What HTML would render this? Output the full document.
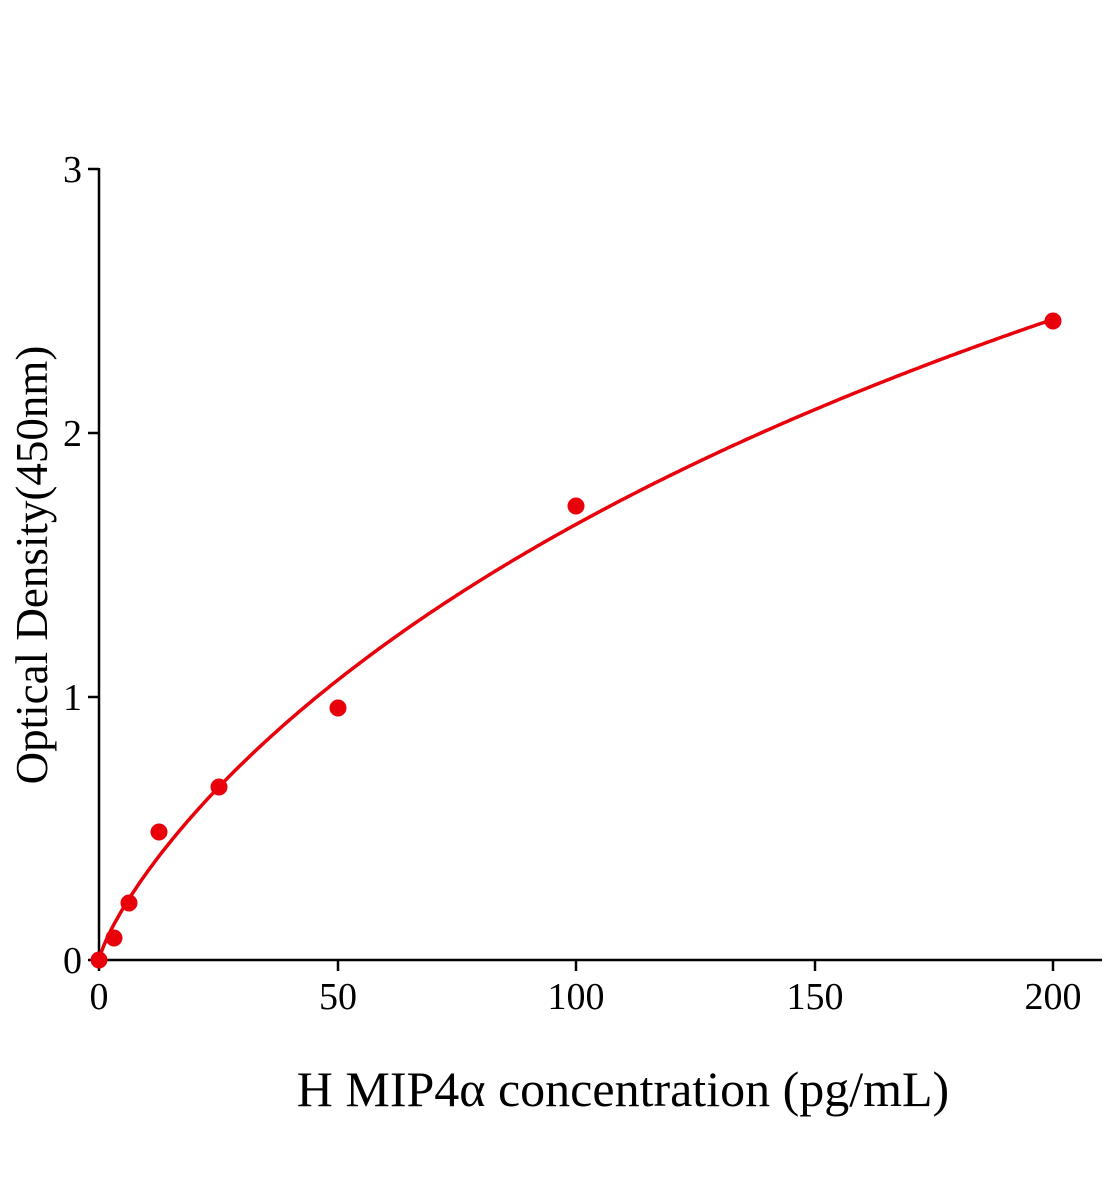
<!DOCTYPE html>
<html><head><meta charset="utf-8"><style>
body{margin:0;background:#fff}
svg{display:block}
text{font-family:"Liberation Serif",serif;fill:#000}
</style></head><body>
<svg width="1104" height="1200" viewBox="0 0 1104 1200" xmlns="http://www.w3.org/2000/svg">
<g stroke="#000" stroke-width="2.5" fill="none">
<line x1="99" y1="168" x2="99" y2="961"/>
<line x1="98" y1="960" x2="1102" y2="960"/>
<line x1="88" y1="169" x2="99" y2="169"/>
<line x1="88" y1="433" x2="99" y2="433"/>
<line x1="88" y1="697" x2="99" y2="697"/>
<line x1="88" y1="960" x2="99" y2="960"/>
<line x1="99" y1="960" x2="99" y2="971"/>
<line x1="338" y1="960" x2="338" y2="971"/>
<line x1="576" y1="960" x2="576" y2="971"/>
<line x1="815" y1="960" x2="815" y2="971"/>
<line x1="1053" y1="960" x2="1053" y2="971"/>
</g>
<g font-size="38" text-anchor="end">
<text x="82" y="182">3</text>
<text x="82" y="446">2</text>
<text x="82" y="710">1</text>
<text x="82" y="973">0</text>
</g>
<g font-size="38" text-anchor="middle">
<text x="99" y="1009">0</text>
<text x="338" y="1009">50</text>
<text x="576" y="1009">100</text>
<text x="815" y="1009">150</text>
<text x="1053" y="1009">200</text>
</g>
<text x="623" y="1106" font-size="50" text-anchor="middle">H MIP4α concentration (pg/mL)</text>
<text transform="translate(47,565) rotate(-90)" font-size="45" text-anchor="middle">Optical Density(450nm)</text>
<path id="c" fill="none" stroke="#e8000b" stroke-width="3.5"/>
<g fill="#e8000b">
<circle cx="99" cy="960" r="8.5"/>
<circle cx="114" cy="938" r="8.5"/>
<circle cx="129" cy="903" r="8.5"/>
<circle cx="159" cy="832" r="8.5"/>
<circle cx="219" cy="787" r="8.5"/>
<circle cx="338" cy="708" r="8.5"/>
<circle cx="576" cy="506" r="8.5"/>
<circle cx="1053" cy="321" r="8.5"/>
</g>
<script>
var d="";for(var i=0;i<=400;i++){var x=i*0.5;var y=x<=0?0:6.66/(1+Math.pow(400/x,0.8));
d+=(i?"L":"M")+(99+x*4.77).toFixed(1)+","+(960-y*263.7).toFixed(1);}
document.getElementById("c").setAttribute("d",d);
</script>
</svg>
</body></html>
